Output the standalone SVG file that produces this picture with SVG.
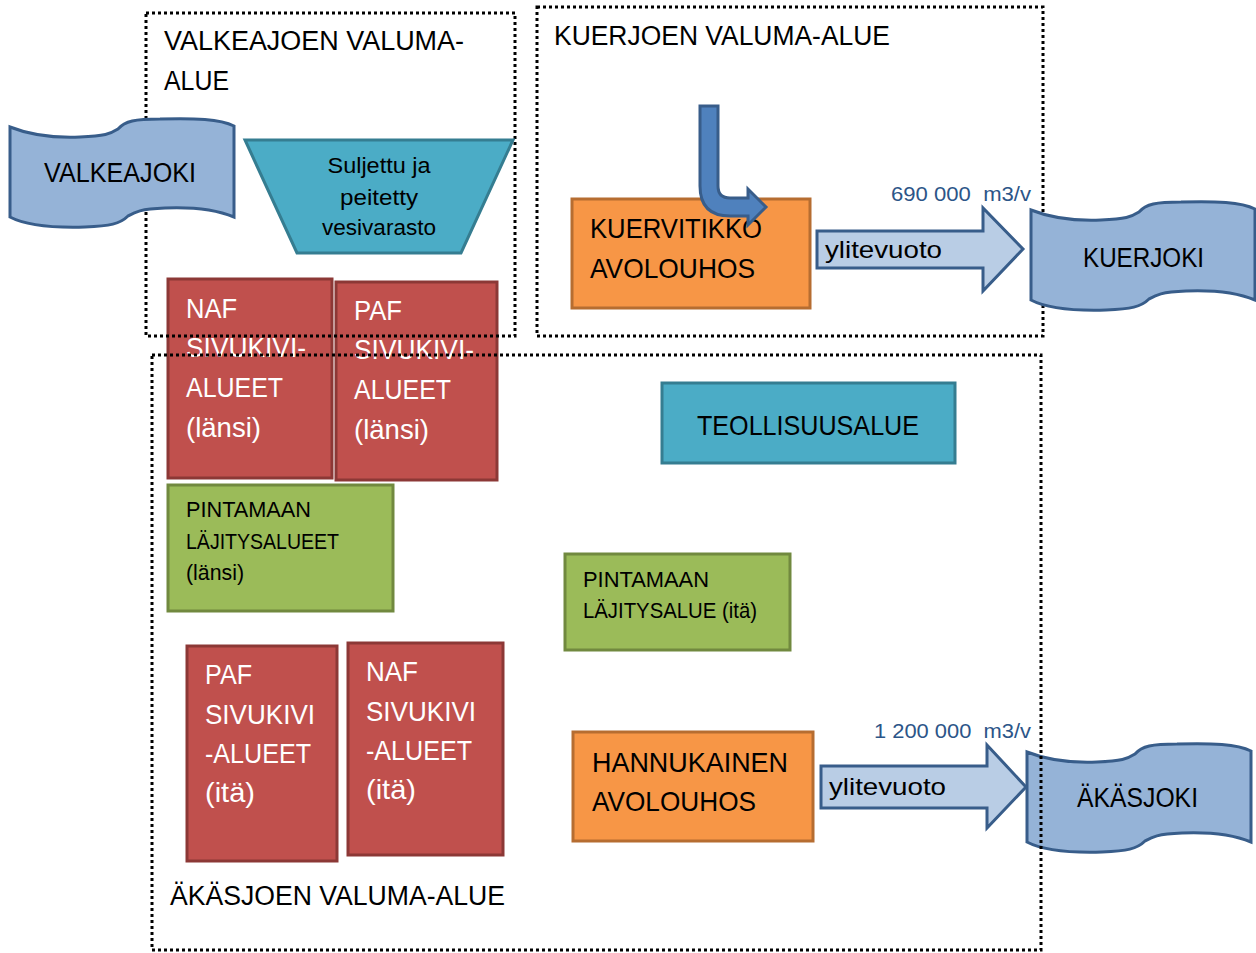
<svg xmlns="http://www.w3.org/2000/svg" width="1256" height="953" viewBox="0 0 1256 953">
<defs>
<style>
text{font-family:"Liberation Sans",Arial,sans-serif;fill:#000}
.dot{fill:none;stroke:#000;stroke-width:3;stroke-dasharray:3 3}
.red{fill:#C0504D;stroke:#8C3836;stroke-width:3}
.grn{fill:#9BBB59;stroke:#71893F;stroke-width:3}
.org{fill:#F79646;stroke:#B66D31;stroke-width:3}
.tea{fill:#4BACC6;stroke:#357D91;stroke-width:3}
.riv{fill:#95B3D7;stroke:#385D8A;stroke-width:3}
.blk{fill:#B9CDE5;stroke:#385D8A;stroke-width:3}
.w{fill:#fff;font-size:28px}
.t27{font-size:27px}
.t28{font-size:28px}
.t22{font-size:22px}
.t24{font-size:24px}
.lbl{font-size:20px;fill:#2C5588}
</style>
<path id="wave" d="M0,10 C20,18 45,21 70,20 C95,19 100,17 108,12 C115,4 125,2 150,2 C185,1 210,2 224,9 L224,100 C205,92 180,90 155,91 C130,92 125,95 118,99 C110,107 100,109 75,110 C40,111 15,108 0,100 Z"/>
</defs>
<rect width="1256" height="953" fill="#fff"/>

<g id="kuerjoen-alue">
<rect class="dot" x="537" y="7" width="506" height="329"/>
<text class="t27" x="554" y="45" textLength="336" lengthAdjust="spacingAndGlyphs">KUERJOEN VALUMA-ALUE</text>
</g>

<g id="kuerjoki">
<use href="#wave" class="riv" x="1031" y="200"/>
<text class="t27" x="1083" y="267" textLength="121" lengthAdjust="spacingAndGlyphs">KUERJOKI</text>
</g>

<g id="akasjoki">
<use href="#wave" class="riv" x="1027" y="742"/>
<text class="t27" x="1077" y="807" textLength="121" lengthAdjust="spacingAndGlyphs">ÄKÄSJOKI</text>
</g>

<g id="kuervitikko">
<rect class="org" x="572" y="199" width="238" height="109"/>
<text class="t28" x="590" y="238" textLength="172" lengthAdjust="spacingAndGlyphs">KUERVITIKKO</text>
<text class="t28" x="590" y="278" textLength="165" lengthAdjust="spacingAndGlyphs">AVOLOUHOS</text>
</g>

<g id="hannukainen">
<rect class="org" x="573" y="732" width="240" height="109"/>
<text class="t28" x="592" y="772" textLength="196" lengthAdjust="spacingAndGlyphs">HANNUKAINEN</text>
<text class="t28" x="592" y="811" textLength="164" lengthAdjust="spacingAndGlyphs">AVOLOUHOS</text>
</g>

<g id="teollisuusalue">
<rect class="tea" x="662" y="383" width="293" height="80"/>
<text class="t28" x="697" y="435" textLength="222" lengthAdjust="spacingAndGlyphs">TEOLLISUUSALUE</text>
</g>

<g id="naf-lansi">
<rect class="red" x="168" y="279" width="164" height="199"/>
<text class="w" x="186" y="318" textLength="51" lengthAdjust="spacingAndGlyphs">NAF</text>
<text class="w" x="186" y="357" textLength="120" lengthAdjust="spacingAndGlyphs">SIVUKIVI-</text>
<text class="w" x="186" y="397" textLength="97" lengthAdjust="spacingAndGlyphs">ALUEET</text>
<text class="w" x="186" y="437" textLength="75" lengthAdjust="spacingAndGlyphs">(länsi)</text>
</g>

<g id="paf-lansi">
<rect class="red" x="336" y="282" width="161" height="198"/>
<text class="w" x="354" y="320" textLength="48" lengthAdjust="spacingAndGlyphs">PAF</text>
<text class="w" x="354" y="359" textLength="120" lengthAdjust="spacingAndGlyphs">SIVUKIVI-</text>
<text class="w" x="354" y="399" textLength="97" lengthAdjust="spacingAndGlyphs">ALUEET</text>
<text class="w" x="354" y="439" textLength="75" lengthAdjust="spacingAndGlyphs">(länsi)</text>
</g>

<g id="pintamaan-lansi">
<rect class="grn" x="168" y="485" width="225" height="126"/>
<text class="t22" x="186" y="517" textLength="125" lengthAdjust="spacingAndGlyphs">PINTAMAAN</text>
<text class="t22" x="186" y="549" textLength="153" lengthAdjust="spacingAndGlyphs">LÄJITYSALUEET</text>
<text class="t22" x="186" y="580" textLength="58" lengthAdjust="spacingAndGlyphs">(länsi)</text>
</g>

<g id="pintamaan-ita">
<rect class="grn" x="565" y="554" width="225" height="96"/>
<text class="t22" x="583" y="587" textLength="126" lengthAdjust="spacingAndGlyphs">PINTAMAAN</text>
<text class="t22" x="583" y="618" textLength="174" lengthAdjust="spacingAndGlyphs">LÄJITYSALUE (itä)</text>
</g>

<g id="paf-ita">
<rect class="red" x="187" y="646" width="150" height="215"/>
<text class="w" x="205" y="684" textLength="47" lengthAdjust="spacingAndGlyphs">PAF</text>
<text class="w" x="205" y="724" textLength="110" lengthAdjust="spacingAndGlyphs">SIVUKIVI</text>
<text class="w" x="205" y="763" textLength="106" lengthAdjust="spacingAndGlyphs">-ALUEET</text>
<text class="w" x="205" y="802" textLength="50" lengthAdjust="spacingAndGlyphs">(itä)</text>
</g>

<g id="naf-ita">
<rect class="red" x="348" y="643" width="155" height="212"/>
<text class="w" x="366" y="681" textLength="52" lengthAdjust="spacingAndGlyphs">NAF</text>
<text class="w" x="366" y="721" textLength="110" lengthAdjust="spacingAndGlyphs">SIVUKIVI</text>
<text class="w" x="366" y="760" textLength="106" lengthAdjust="spacingAndGlyphs">-ALUEET</text>
<text class="w" x="366" y="799" textLength="50" lengthAdjust="spacingAndGlyphs">(itä)</text>
</g>

<g id="valkeajoen-alue">
<rect class="dot" x="146" y="13" width="369" height="323"/>
<text class="t27" x="164" y="50" textLength="300" lengthAdjust="spacingAndGlyphs">VALKEAJOEN  VALUMA-</text>
<text class="t27" x="164" y="90" textLength="65" lengthAdjust="spacingAndGlyphs">ALUE</text>
</g>

<g id="valkeajoki">
<use href="#wave" class="riv" x="10" y="117"/>
<text class="t27" x="44" y="182" textLength="152" lengthAdjust="spacingAndGlyphs">VALKEAJOKI</text>
</g>

<g id="vesivarasto">
<polygon class="tea" points="245,140 513,140 461,253 297,253"/>
<text class="t22" x="379" y="173" text-anchor="middle" textLength="103" lengthAdjust="spacingAndGlyphs">Suljettu ja</text>
<text class="t22" x="379" y="205" text-anchor="middle" textLength="78" lengthAdjust="spacingAndGlyphs">peitetty</text>
<text class="t22" x="379" y="235" text-anchor="middle" textLength="114" lengthAdjust="spacingAndGlyphs">vesivarasto</text>
</g>

<g id="connectors">
<path d="M700,106 L718,106 L718,186 Q718,198 730,198 L748,198 L748,189 L766,207 L748,225 L748,216 L730,216 Q700,216 700,186 Z" fill="#4F81BD" stroke="#385D8A" stroke-width="3"/>
<g id="ylitevuoto-kuerjoki">
<polygon class="blk" points="817,231 983,231 983,208 1023,249 983,291 983,268 817,268"/>
<text class="t24" x="825" y="258" textLength="117" lengthAdjust="spacingAndGlyphs">ylitevuoto</text>
<text class="lbl" x="1031" y="201" text-anchor="end" textLength="140" lengthAdjust="spacingAndGlyphs" xml:space="preserve">690 000  m3/v</text>
</g>
<g id="ylitevuoto-akasjoki">
<polygon class="blk" points="821,766 987,766 987,745 1026,787 987,828 987,808 821,808"/>
<text class="t24" x="829" y="795" textLength="117" lengthAdjust="spacingAndGlyphs">ylitevuoto</text>
<text class="lbl" x="1031" y="738" text-anchor="end" textLength="157" lengthAdjust="spacingAndGlyphs" xml:space="preserve">1 200 000  m3/v</text>
</g>
</g>

<g id="akasjoen-alue">
<rect class="dot" x="152" y="355" width="889" height="595"/>
<text class="t27" x="170" y="905" textLength="335" lengthAdjust="spacingAndGlyphs">ÄKÄSJOEN VALUMA-ALUE</text>
</g>
</svg>
